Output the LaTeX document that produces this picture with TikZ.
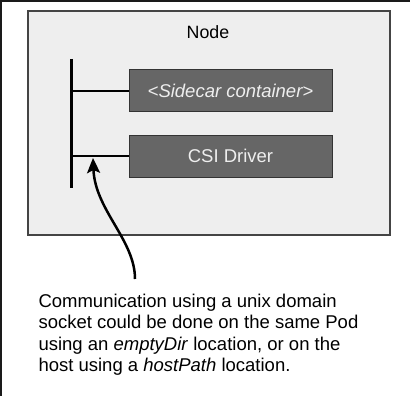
\documentclass[tikz,border=0pt]{standalone}
\usepackage{fontspec}
\setmainfont{Liberation Sans}
\usetikzlibrary{arrows.meta}
\definecolor{hostfill}{HTML}{EEEEEE}
\definecolor{hostedge}{HTML}{444444}
\definecolor{ctrfill}{HTML}{666666}
\definecolor{ctredge}{HTML}{333333}
\definecolor{frame}{HTML}{1A1A1A}
\begin{document}
\begin{tikzpicture}[x=1pt,y=-1pt,
  txt/.style={font=\fontsize{18.5}{21.6}\selectfont},
  hostbox/.style={draw=hostedge,fill=hostfill,line width=1.2pt,minimum width=362pt,minimum height=224pt,inner sep=0pt},
  ctrbox/.style={txt,draw=ctredge,fill=ctrfill,line width=1pt,minimum width=203pt,minimum height=42pt,inner sep=0pt,text=hostfill},
  link/.style={line width=2.5pt},
  pointer/.style={line width=2.5pt,-{Stealth[length=15pt,width=13pt,inset=3pt]}}]
  \useasboundingbox (0,0) rectangle (410,396);
  \fill[white] (0,0) rectangle (410,396);
  \fill[frame] (0,0) rectangle (410,2.5);
  \fill[frame] (0,0) rectangle (1.5,396);

  \node[hostbox] (host) at (209,123) {};
  \node[font=\fontsize{17.8}{21}\selectfont] (hostlabel) at (208,32) {Node};
  \node[ctrbox] (sidecar) at (230.5,91) {\itshape <Sidecar container>};
  \node[ctrbox] (csi) at (230.5,156) {CSI Driver};

  \coordinate (bustop) at (71,59);
  \coordinate (busbot) at (71,188);
  \draw[line width=3pt] (bustop) -- (busbot);
  \draw[link] (sidecar.west) -- (sidecar.west -| bustop);
  \draw[link] (csi.west) -- (csi.west -| bustop);

  \node[txt,anchor=north west,inner sep=0pt,align=left] (note) at (38.3,293.5)
    {Communication using a unix domain\\
     socket could be done on the same Pod\\
     using an \textit{emptyDir} location, or on the\\
     host using a \textit{hostPath} location.};

  \coordinate (tail) at (135,279);
  \coordinate (tip) at (93,158);
  \draw[pointer] (tail) .. controls (135,240) and (95,210) .. (tip);
\end{tikzpicture}
\end{document}
